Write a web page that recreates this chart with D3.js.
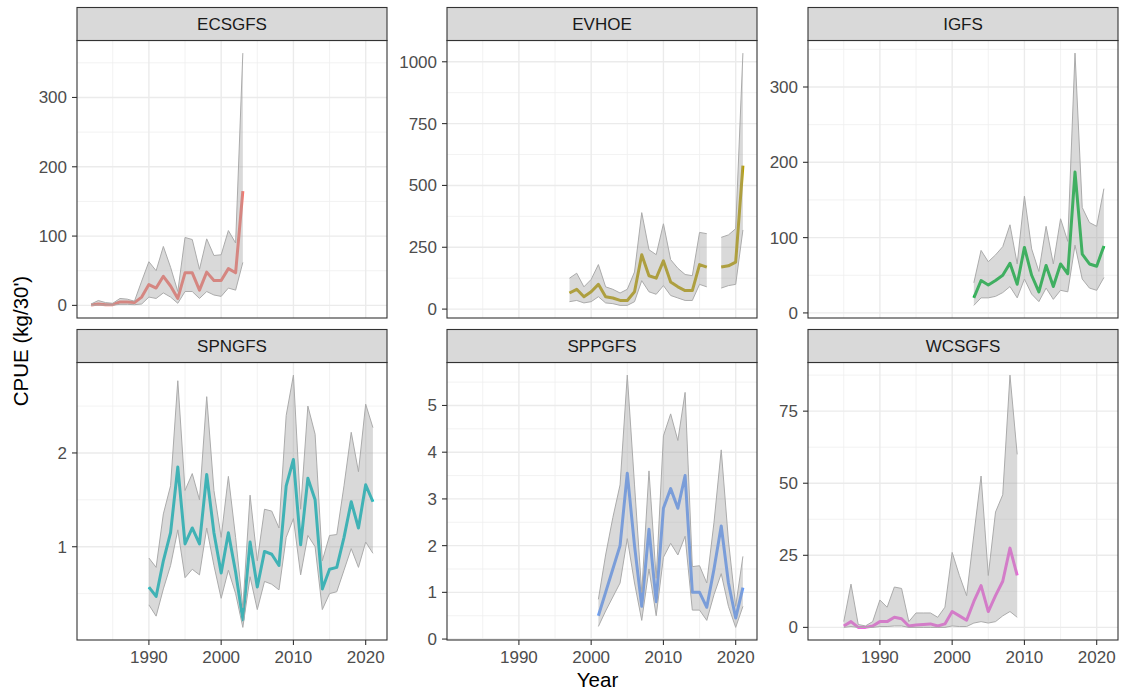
<!DOCTYPE html>
<html>
<head>
<meta charset="utf-8">
<script src="https://cdn.jsdelivr.net/npm/d3@7"></script>
<style>
body { margin: 0; background: #fff; }
text { font-family: "Liberation Sans", Arial, sans-serif; }
</style>
</head>
<body>
<script>
// survey names (facet order) and ggplot hue colours
var surveys = ["ECSGFS", "EVHOE", "IGFS", "SPNGFS", "SPPGFS", "WCSGFS"];
var colors = ["#F8766D", "#B79F00", "#00BA38", "#00BFC4", "#619CFF", "#F564E3"];

// x tick labels (shared) and y tick labels (free per panel)
var xTicks = [1990, 2000, 2010, 2020];
var yTicks = [
    [0, 100, 200, 300],
    [0, 250, 500, 750, 1000],
    [0, 100, 200, 300],
    [1, 2],
    [0, 1, 2, 3, 4, 5],
    [0, 25, 50, 75]
];

// ECSGFS
var ecsYears = [1982, 1983, 1984, 1985, 1986, 1987, 1988, 1989, 1990, 1991, 1992, 1993, 1994, 1995, 1996, 1997, 1998, 1999, 2000, 2001, 2002, 2003];
var ecsMean  = [0.5, 2, 1, 1, 5, 5, 4, 12, 30, 25, 42, 28, 10, 47, 47, 22, 48, 36, 36, 53, 47, 165];
var ecsLow   = [0, 0.5, 0.3, 0.3, 1.5, 1.5, 1, 2, 12, 10, 18, 12, 3, 20, 20, 10, 20, 15, 13, 25, 22, 62];
var ecsHigh  = [2, 7, 4, 3, 10, 9, 6, 35, 63, 50, 85, 55, 20, 98, 95, 52, 96, 72, 73, 108, 90, 364];

// EVHOE (no survey in 2017)
var evhYears = [1997, 1998, 1999, 2000, 2001, 2002, 2003, 2004, 2005, 2006, 2007, 2008, 2009, 2010, 2011, 2012, 2013, 2014, 2015, 2016, 2017, 2018, 2019, 2020, 2021];
var evhMean  = [65, 80, 50, 70, 100, 50, 45, 35, 35, 70, 220, 135, 125, 195, 110, 90, 75, 75, 180, 170, null, 170, 175, 190, 580];
var evhLow   = [30, 35, 25, 30, 50, 25, 22, 15, 15, 30, 115, 70, 60, 95, 55, 45, 35, 35, 100, 90, null, 85, 95, 100, 320];
var evhHigh  = [125, 145, 90, 120, 180, 90, 80, 65, 80, 150, 390, 240, 220, 345, 200, 165, 140, 135, 310, 305, null, 290, 300, 325, 1035];

// IGFS
var igfYears = [2003, 2004, 2005, 2006, 2007, 2008, 2009, 2010, 2011, 2012, 2013, 2014, 2015, 2016, 2017, 2018, 2019, 2020, 2021];
var igfMean  = [20, 43, 37, 43, 50, 66, 38, 87, 50, 28, 63, 35, 65, 52, 187, 78, 65, 62, 89];
var igfLow   = [10, 20, 20, 22, 27, 35, 20, 45, 25, 15, 33, 18, 30, 28, 90, 45, 33, 30, 47];
var igfHigh  = [40, 83, 68, 77, 88, 117, 65, 155, 85, 55, 115, 65, 125, 95, 345, 140, 120, 115, 165];

// SPNGFS
var spnYears = [1990, 1991, 1992, 1993, 1994, 1995, 1996, 1997, 1998, 1999, 2000, 2001, 2002, 2003, 2004, 2005, 2006, 2007, 2008, 2009, 2010, 2011, 2012, 2013, 2014, 2015, 2016, 2017, 2018, 2019, 2020, 2021];
var spnMean  = [0.57, 0.47, 0.85, 1.15, 1.85, 1.03, 1.2, 1.03, 1.77, 1.15, 0.72, 1.15, 0.73, 0.22, 1.05, 0.57, 0.95, 0.92, 0.8, 1.65, 1.93, 1.02, 1.73, 1.5, 0.55, 0.76, 0.78, 1.1, 1.48, 1.2, 1.66, 1.48];
var spnLow   = [0.38, 0.26, 0.55, 0.8, 1.18, 0.67, 0.76, 0.7, 1.2, 0.8, 0.45, 0.75, 0.5, 0.14, 0.68, 0.33, 0.63, 0.6, 0.54, 1.1, 1.3, 0.7, 1.12, 1.0, 0.33, 0.5, 0.52, 0.75, 0.98, 0.78, 1.05, 0.93];
var spnHigh  = [0.88, 0.78, 1.35, 1.65, 2.77, 1.6, 1.78, 1.5, 2.6, 1.6, 1.1, 1.75, 1.1, 0.35, 1.55, 0.85, 1.4, 1.38, 1.2, 2.4, 2.83, 1.4, 2.5, 2.2, 0.85, 1.12, 1.13, 1.65, 2.22, 1.8, 2.52, 2.27];

// SPPGFS
var sppYears = [2001, 2002, 2003, 2004, 2005, 2006, 2007, 2008, 2009, 2010, 2011, 2012, 2013, 2014, 2015, 2016, 2017, 2018, 2019, 2020, 2021];
var sppMean  = [0.5, 1.0, 1.5, 2.0, 3.55, 2.0, 0.7, 2.35, 0.8, 2.8, 3.22, 2.8, 3.5, 1.0, 1.0, 0.68, 1.5, 2.42, 1.2, 0.45, 1.1];
var sppLow   = [0.27, 0.6, 0.9, 1.2, 2.15, 1.2, 0.4, 1.5, 0.5, 1.75, 2.05, 1.8, 2.2, 0.62, 0.62, 0.4, 0.95, 1.4, 0.7, 0.25, 0.7];
var sppHigh  = [0.85, 1.8, 2.6, 3.3, 5.65, 3.3, 1.0, 3.6, 1.3, 4.35, 4.82, 4.25, 5.28, 1.55, 1.57, 1.2, 2.5, 4.05, 2.1, 0.7, 1.77];

// WCSGFS
var wcsYears = [1985, 1986, 1987, 1988, 1989, 1990, 1991, 1992, 1993, 1994, 1995, 1996, 1997, 1998, 1999, 2000, 2001, 2002, 2003, 2004, 2005, 2006, 2007, 2008, 2009];
var wcsMean  = [0.5, 2, 0, 0, 0.5, 2, 2, 3.5, 3, 0.5, 0.8, 1, 1.2, 0.5, 1.2, 5.5, 4, 2.5, 9, 14.5, 5.5, 11, 16, 27.5, 18];
var wcsLow   = [0, 0.3, 0, 0, 0, 0.3, 0.3, 0.5, 0.5, 0, 0, 0, 0, 0, 0, 0.5, 0.3, 0.3, 1.5, 2, 1.5, 2, 4, 5.5, 3.5];
var wcsHigh  = [2, 15, 1, 0.5, 2, 9.5, 7, 14, 13.5, 2, 5, 5, 5, 3.5, 7, 26, 18, 11, 32, 52.5, 18, 40, 46, 87.5, 60];

var series = [
    {years: ecsYears, mean: ecsMean, low: ecsLow, high: ecsHigh},
    {years: evhYears, mean: evhMean, low: evhLow, high: evhHigh},
    {years: igfYears, mean: igfMean, low: igfLow, high: igfHigh},
    {years: spnYears, mean: spnMean, low: spnLow, high: spnHigh},
    {years: sppYears, mean: sppMean, low: sppLow, high: sppHigh},
    {years: wcsYears, mean: wcsMean, low: wcsLow, high: wcsHigh}
];

var width = 1123;
var height = 695;

// facet layout
var colX = [77, 447, 808];
var panelW = 310;
var rowTop = [7.5, 329.5];
var stripH = 33;
var panelH = 277.5;
var tickLen = 5;

var svg = d3.select("body").append("svg")
    .attr("width", width)
    .attr("height", height);

svg.append("rect")
    .attr("width", width)
    .attr("height", height)
    .attr("fill", "#ffffff");

// shared x domain with ggplot 5% expansion
var allYears = d3.merge(series.map(function(s) { return s.years; }));
var xExt = d3.extent(allYears);
var xPad = (xExt[1] - xExt[0]) * 0.05;

function minorBreaks(major, domain) {
    var step = major.length > 1 ? major[1] - major[0] : 1;
    var out = [];
    for (var v = major[0] - step / 2; v <= domain[1]; v += step) {
        if (v >= domain[0]) out.push(v);
    }
    return out;
}

surveys.forEach(function(name, i) {
    var col = i % 3;
    var row = Math.floor(i / 3);
    var s = series[i];
    var pts = s.years.map(function(y, k) {
        return {year: y, mean: s.mean[k], low: s.low[k], high: s.high[k]};
    });

    var x = d3.scaleLinear()
        .domain([xExt[0] - xPad, xExt[1] + xPad])
        .range([0, panelW]);

    var lo = d3.min(pts, function(d) { return d.low; });
    var hi = d3.max(pts, function(d) { return d.high; });
    var yPad = (hi - lo) * 0.05;
    var y = d3.scaleLinear()
        .domain([lo - yPad, hi + yPad])
        .range([panelH, 0]);

    var g = svg.append("g")
        .attr("transform", "translate(" + colX[col] + "," + (rowTop[row] + stripH) + ")");

    // grid
    var grid = g.append("g");
    minorBreaks(xTicks, x.domain()).forEach(function(v) {
        grid.append("line").attr("x1", x(v)).attr("x2", x(v)).attr("y1", 0).attr("y2", panelH)
            .style("stroke", "#EFEFEF").style("stroke-width", 0.8);
    });
    minorBreaks(yTicks[i], y.domain()).forEach(function(v) {
        grid.append("line").attr("x1", 0).attr("x2", panelW).attr("y1", y(v)).attr("y2", y(v))
            .style("stroke", "#EFEFEF").style("stroke-width", 0.8);
    });
    xTicks.forEach(function(v) {
        grid.append("line").attr("x1", x(v)).attr("x2", x(v)).attr("y1", 0).attr("y2", panelH)
            .style("stroke", "#EBEBEB").style("stroke-width", 1.4);
    });
    yTicks[i].forEach(function(v) {
        grid.append("line").attr("x1", 0).attr("x2", panelW).attr("y1", y(v)).attr("y2", y(v))
            .style("stroke", "#EBEBEB").style("stroke-width", 1.4);
    });

    var defined = function(d) { return d.mean !== null; };

    // mean line (ribbon goes on top of it, like the original)
    var line = d3.line()
        .defined(defined)
        .x(function(d) { return x(d.year); })
        .y(function(d) { return y(d.mean); });

    g.append("path")
        .datum(pts)
        .attr("d", line)
        .style("fill", "none")
        .style("stroke", colors[i])
        .style("stroke-width", 3)
        .style("stroke-linejoin", "round");

    var area = d3.area()
        .defined(defined)
        .x(function(d) { return x(d.year); })
        .y0(function(d) { return y(d.low); })
        .y1(function(d) { return y(d.high); });

    g.append("path")
        .datum(pts)
        .attr("d", area)
        .style("fill", "#A0A0A0")
        .style("fill-opacity", 0.4);

    ["low", "high"].forEach(function(key) {
        g.append("path")
            .datum(pts)
            .attr("d", d3.line().defined(defined)
                .x(function(d) { return x(d.year); })
                .y(function(d) { return y(d[key]); }))
            .style("fill", "none")
            .style("stroke", "#ABABAB")
            .style("stroke-width", 1);
    });

    // panel border
    g.append("rect")
        .attr("width", panelW)
        .attr("height", panelH)
        .style("fill", "none")
        .style("stroke", "#333333")
        .style("stroke-width", 1.1);

    // strip
    g.append("rect")
        .attr("y", -stripH)
        .attr("width", panelW)
        .attr("height", stripH)
        .style("fill", "#D9D9D9")
        .style("stroke", "#333333")
        .style("stroke-width", 1.1);

    g.append("text")
        .text(name)
        .attr("x", panelW / 2)
        .attr("y", -stripH / 2)
        .attr("dy", "0.35em")
        .attr("text-anchor", "middle")
        .style("font-size", "17px")
        .style("fill", "#1A1A1A");

    // y axis
    yTicks[i].forEach(function(v) {
        g.append("line")
            .attr("x1", -tickLen).attr("x2", 0)
            .attr("y1", y(v)).attr("y2", y(v))
            .style("stroke", "#333333").style("stroke-width", 1.1);
        g.append("text")
            .text(v)
            .attr("x", -tickLen - 5)
            .attr("y", y(v))
            .attr("dy", "0.35em")
            .attr("text-anchor", "end")
            .style("font-size", "17px")
            .style("fill", "#4D4D4D");
    });

    // x axis on bottom row only
    if (row === 1) {
        xTicks.forEach(function(v) {
            g.append("line")
                .attr("x1", x(v)).attr("x2", x(v))
                .attr("y1", panelH).attr("y2", panelH + tickLen)
                .style("stroke", "#333333").style("stroke-width", 1.1);
            g.append("text")
                .text(v)
                .attr("x", x(v))
                .attr("y", panelH + tickLen + 6)
                .attr("dy", "0.71em")
                .attr("text-anchor", "middle")
                .style("font-size", "17px")
                .style("fill", "#4D4D4D");
        });
    }
});

// axis titles
svg.append("text")
    .text("Year")
    .attr("x", colX[0] + (colX[2] + panelW - colX[0]) / 2)
    .attr("y", 687)
    .attr("text-anchor", "middle")
    .style("font-size", "20.5px")
    .style("fill", "#000000");

svg.append("text")
    .text("CPUE (kg/30')")
    .attr("transform", "translate(28,341) rotate(-90)")
    .attr("text-anchor", "middle")
    .style("font-size", "20.5px")
    .style("fill", "#000000");
</script>
</body>
</html>
